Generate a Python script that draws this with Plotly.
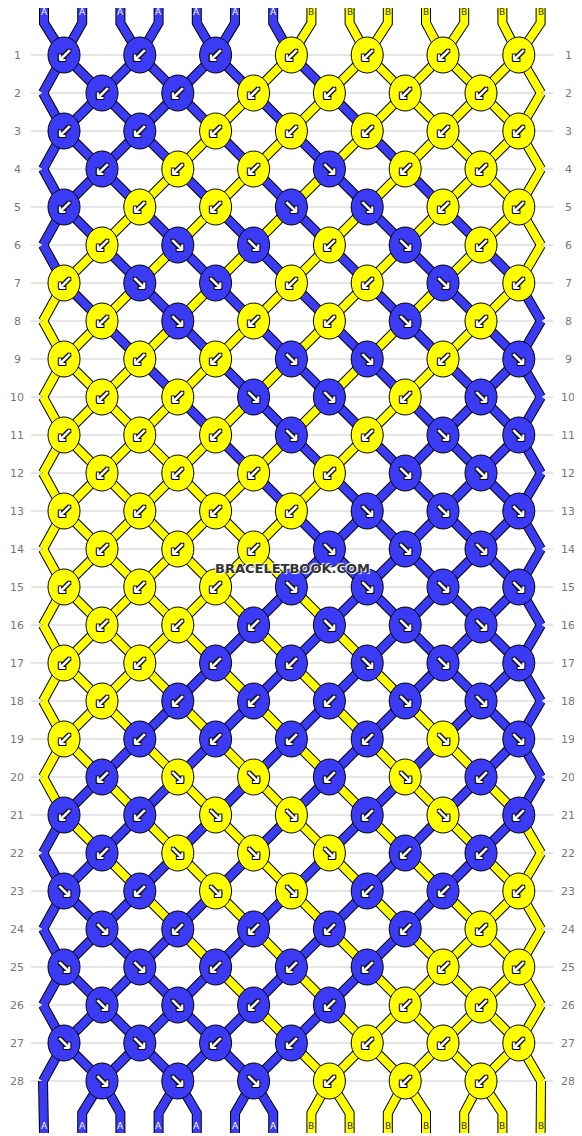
import plotly.graph_objects as go

# knot rows: A = blue, B = yellow; L = backward arrow, R = forward arrow
rows = [
    "AL AL AL BL BL BL BL",
    "AL AL BL BL BL BL",
    "AL AL BL BL BL BL BL",
    "AL BL BL AR BL BL",
    "AL BL BL AR AR BL BL",
    "BL AR AR BL AR BL",
    "BL AR AR BL BL AR BL",
    "BL AR BL BL AR BL",
    "BL BL BL AR AR BL AR",
    "BL BL AR AR BL AR",
    "BL BL BL AR BL AR AR",
    "BL BL BL BL AR AR",
    "BL BL BL BL AR AR AR",
    "BL BL BL AR AR AR",
    "BL BL BL AR AR AR AR",
    "BL BL AL AR AR AR",
    "BL BL AL AL AR AR AR",
    "BL AL AL AL AR AR",
    "BL AL AL AL AL BR AR",
    "AL BR BR AL BR AL",
    "AL AL BR BR AL BR AL",
    "AL BR BR BR AL AL",
    "AR AL BR BR AL AL BL",
    "AR AL AL AL AL BL",
    "AR AR AL AL AL BL BL",
    "AR AR AL AL BL BL",
    "AR AR AL AL BL BL BL",
    "AR AR AR BL BL BL",
]
strands = list("AAAAAAABBBBBBB")
colors = {"A": "#3b3bf5", "B": "#ffff00"}
label_colors = {"A": "white", "B": "#333333"}
arrows = {"L": "↙", "R": "↘"}
outline = "-1px -1px 0 black, 1px -1px 0 black, -1px 1px 0 black, 1px 1px 0 black"

def ry(r):
    return 54 + r * 38.0

def kx(r, k):
    return (63 if r % 2 == 0 else 101) + 75.8 * k

def sx(r, p):
    if r % 2 == 0:
        return kx(r, p // 2)
    if p == 0:
        return 42
    if p == 13:
        return 540
    return kx(r, (p - 1) // 2)

top_x = [43 + 38.2 * i for i in range(14)]

# strand segments
segs = {"A": ([], []), "B": ([], [])}
cur = strands[:]
for p in range(14):
    xs, ys = segs[cur[p]]
    xs += [top_x[p], top_x[p], sx(0, p), None]
    ys += [4, 22, ry(0), None]
for r in range(len(rows)):
    start = 0 if r % 2 == 0 else 1
    for k in range(len(rows[r].split())):
        a = start + 2 * k
        cur[a], cur[a + 1] = cur[a + 1], cur[a]
    for p in range(14):
        xs, ys = segs[cur[p]]
        if r + 1 < len(rows):
            xs += [sx(r, p), sx(r + 1, p), None]
            ys += [ry(r), ry(r + 1), None]
        else:
            xs += [sx(r, p), top_x[p], top_x[p], None]
            ys += [ry(r), 1112, 1132, None]
bottom = cur[:]

fig = go.Figure()
for r in range(len(rows)):
    fig.add_shape(type="line", x0=30, x1=552, y0=ry(r), y1=ry(r),
                  line=dict(color="#cccccc", width=1), layer="below")
for c in "AB":
    xs, ys = segs[c]
    fig.add_trace(go.Scatter(x=xs, y=ys, mode="lines", line=dict(color="black", width=10),
                             hoverinfo="skip"))
for c in "AB":
    xs, ys = segs[c]
    fig.add_trace(go.Scatter(x=xs, y=ys, mode="lines", line=dict(color=colors[c], width=8),
                             hoverinfo="skip"))

for r, row in enumerate(rows):
    for k, tok in enumerate(row.split()):
        x, y = kx(r, k), ry(r)
        fig.add_shape(type="circle", x0=x - 16, x1=x + 16, y0=y - 18, y1=y + 18,
                      fillcolor=colors[tok[0]], line=dict(color="black", width=1))
        fig.add_annotation(x=x, y=y, text="<b>" + arrows[tok[1]] + "</b>", showarrow=False,
                           font=dict(color="white", size=20, family="DejaVu Sans",
                                     shadow=outline))

for i in range(14):
    fig.add_annotation(x=top_x[i], y=11, text=strands[i], showarrow=False,
                       font=dict(color=label_colors[strands[i]], size=9, family="DejaVu Sans"))
    fig.add_annotation(x=top_x[i], y=1125, text=bottom[i], showarrow=False,
                       font=dict(color=label_colors[bottom[i]], size=9, family="DejaVu Sans"))
for r in range(len(rows)):
    for x in (16, 567):
        fig.add_annotation(x=x, y=ry(r), text=str(r + 1), showarrow=False,
                           font=dict(color="#777777", size=11, family="DejaVu Sans"))
fig.add_annotation(x=291, y=567, text="<b>BRACELETBOOK.COM</b>", showarrow=False,
                   font=dict(size=13, color="#333333", family="DejaVu Sans",
                             shadow="-1px -1px 1px white, 1px 1px 1px white"))

fig.update_layout(width=582, height=1136, margin=dict(l=0, r=0, t=0, b=0),
                  plot_bgcolor="white", paper_bgcolor="white", showlegend=False,
                  xaxis=dict(range=[7, 589], visible=False),
                  yaxis=dict(range=[1143, 7], visible=False))
fig.write_html("out.html")
